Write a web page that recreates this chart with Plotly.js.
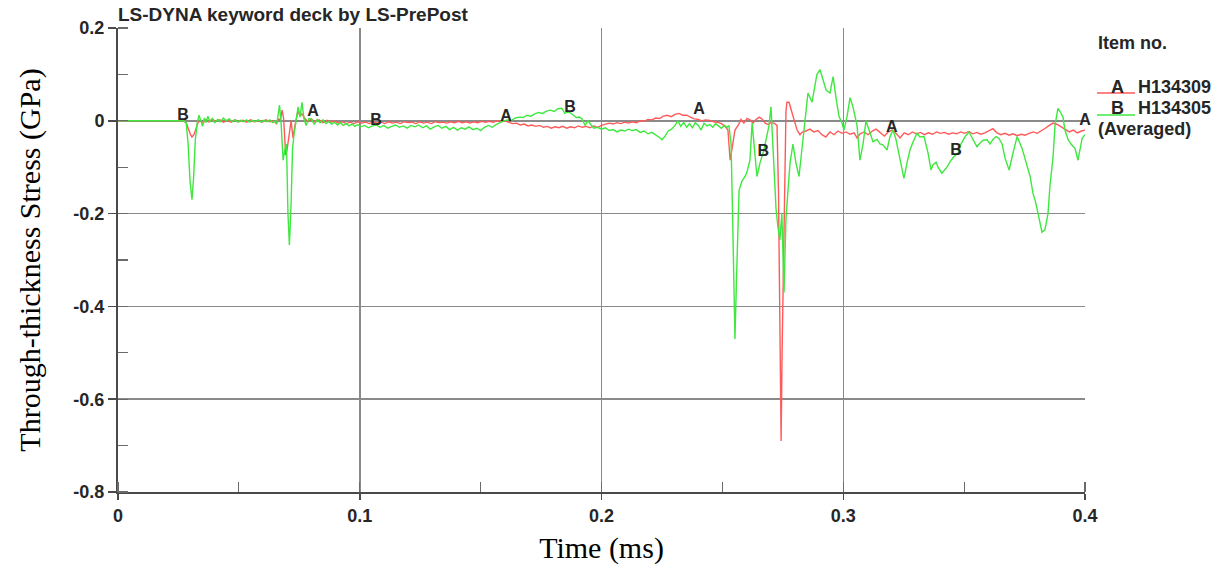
<!DOCTYPE html>
<html>
<head>
<meta charset="utf-8">
<script src="https://cdn.plot.ly/plotly-3.0.1.min.js"></script>
<style>html,body{margin:0;padding:0;background:#fff;}#chart{width:1230px;height:573px;}</style>
</head>
<body>
<div id="chart"></div>
<script>
// ---- data (time in ms, stress in GPa) ----
const seriesNames = ["H134309", "H134305"];
const seriesLetters = ["A", "B"];

const timeA = [0,0.010,0.020,0.027,0.0282,0.0292,0.0300,0.0306,0.0314,0.0322,0.0330,0.0340,0.0352,0.0364,0.0376,0.0390,0.0404,0.0420,0.0436,0.0452,0.0468,0.0484,0.0500,0.0516,0.0532,0.0548,0.0564,0.0580,0.0596,0.0612,0.0628,0.0644,0.0655,0.0662,0.0672,0.0679,0.0685,0.0694,0.0700,0.0716,0.0724,0.0732,0.0745,0.0752,0.0761,0.0773,0.0786,0.0800,0.0816,0.0832,0.0848,0.0864,0.0880,0.0896,0.0912,0.0928,0.0944,0.0960,0.0976,0.0992,0.1008,0.1024,0.1040,0.1056,0.1072,0.1088,0.1104,0.1120,0.1136,0.1152,0.1168,0.1184,0.1200,0.1216,0.1232,0.1248,0.1264,0.1280,0.1296,0.1312,0.1328,0.1344,0.1360,0.1376,0.1392,0.1408,0.1424,0.1440,0.1456,0.1472,0.1488,0.1504,0.1520,0.1536,0.1552,0.1568,0.1584,0.1600,0.1616,0.1632,0.1648,0.1664,0.1680,0.1696,0.1712,0.1728,0.1744,0.1760,0.1776,0.1792,0.1808,0.1824,0.1840,0.1856,0.1872,0.1888,0.1904,0.1920,0.1936,0.1952,0.1968,0.1984,0.2000,0.2016,0.2032,0.2048,0.2064,0.2080,0.2096,0.2112,0.2128,0.2144,0.2160,0.2176,0.2192,0.2208,0.2224,0.2240,0.2256,0.2272,0.2288,0.2304,0.2320,0.2336,0.2352,0.2368,0.2384,0.2400,0.2416,0.2432,0.2448,0.2464,0.2480,0.2496,0.2511,0.2523,0.2532,0.2540,0.2552,0.2565,0.2577,0.2589,0.2602,0.2614,0.2627,0.2639,0.2652,0.2664,0.2677,0.2689,0.2701,0.2714,0.2726,0.2732,0.2738,0.2743,0.2747,0.2751,0.2755,0.2759,0.2763,0.2767,0.2776,0.2784,0.2792,0.2800,0.2809,0.2821,0.2829,0.2845,0.2862,0.2878,0.2895,0.2912,0.2928,0.2945,0.2962,0.2978,0.2995,0.3012,0.3028,0.3045,0.3057,0.3070,0.3086,0.3103,0.3120,0.3136,0.3153,0.3170,0.3186,0.3203,0.3220,0.3235,0.3252,0.3269,0.3286,0.3302,0.3319,0.3336,0.3352,0.3369,0.3386,0.3402,0.3419,0.3436,0.3452,0.3469,0.3486,0.3502,0.3519,0.3536,0.3552,0.3569,0.3586,0.3602,0.3619,0.3636,0.3652,0.3669,0.3686,0.3702,0.3719,0.3736,0.3752,0.3769,0.3786,0.3802,0.3819,0.3836,0.3852,0.3868,0.3885,0.3902,0.3918,0.3935,0.3952,0.3968,0.3985,0.4000];
const stressA = [0,0,0,0,-0.004,-0.020,-0.030,-0.035,-0.030,-0.018,-0.005,0.002,-0.004,0.003,-0.002,0.004,-0.002,0.002,-0.003,0.001,-0.003,0.002,-0.002,0.001,-0.003,0.002,-0.002,0.001,-0.003,0.002,-0.002,0.000,-0.006,0.004,0.003,0.023,0.005,-0.074,-0.060,0.000,-0.037,-0.010,0.023,0.010,0.015,0.005,-0.002,0.004,-0.003,0.002,-0.004,0.001,-0.003,0.000,-0.005,-0.002,-0.006,-0.003,-0.006,-0.002,-0.005,-0.003,-0.006,-0.002,-0.005,-0.003,-0.006,-0.002,-0.005,-0.003,-0.006,-0.002,-0.004,-0.003,-0.006,-0.002,-0.005,-0.003,-0.006,-0.002,-0.004,-0.003,-0.005,-0.002,-0.004,-0.001,-0.004,-0.002,-0.005,-0.002,-0.004,-0.001,-0.003,-0.001,-0.003,0.000,-0.002,0.000,-0.003,-0.006,-0.005,-0.009,-0.007,-0.011,-0.009,-0.012,-0.010,-0.014,-0.012,-0.016,-0.013,-0.015,-0.012,-0.016,-0.013,-0.015,-0.011,-0.014,-0.012,-0.015,-0.011,-0.014,-0.010,-0.008,-0.005,-0.007,-0.004,-0.006,-0.003,-0.005,-0.002,-0.004,0.000,-0.001,0.003,0.002,0.006,0.005,0.010,0.012,0.009,0.014,0.016,0.012,0.012,0.008,0.004,0.003,0.000,0.002,0.001,-0.002,-0.003,-0.006,-0.012,-0.020,-0.085,-0.060,-0.020,-0.010,0.003,-0.005,0.005,0.002,-0.005,0.003,0.008,0.004,-0.005,-0.008,-0.004,-0.005,-0.010,-0.150,-0.450,-0.690,-0.500,-0.370,-0.300,-0.100,0.020,0.040,0.040,0.025,0.010,-0.005,-0.020,-0.030,-0.025,-0.022,-0.018,-0.024,-0.021,-0.030,-0.035,-0.024,-0.030,-0.022,-0.027,-0.024,-0.029,-0.026,-0.037,-0.028,-0.024,-0.030,-0.022,-0.018,-0.026,-0.033,-0.024,-0.020,-0.028,-0.037,-0.026,-0.030,-0.024,-0.028,-0.025,-0.030,-0.026,-0.029,-0.024,-0.027,-0.025,-0.029,-0.026,-0.028,-0.024,-0.027,-0.023,-0.028,-0.025,-0.029,-0.026,-0.022,-0.017,-0.026,-0.030,-0.027,-0.031,-0.028,-0.032,-0.029,-0.031,-0.027,-0.024,-0.027,-0.022,-0.016,-0.010,-0.005,-0.008,-0.013,-0.018,-0.024,-0.020,-0.026,-0.022,-0.020];

const timeB = [0,0.010,0.020,0.0270,0.0282,0.0290,0.0298,0.0306,0.0313,0.0320,0.0328,0.0335,0.0342,0.0350,0.0357,0.0364,0.0372,0.0380,0.0390,0.0400,0.0412,0.0424,0.0436,0.0448,0.0460,0.0472,0.0484,0.0496,0.0508,0.0520,0.0532,0.0544,0.0556,0.0568,0.0580,0.0592,0.0604,0.0616,0.0628,0.0640,0.0650,0.0657,0.0662,0.0668,0.0674,0.0683,0.0691,0.0697,0.0703,0.0709,0.0716,0.0722,0.0728,0.0736,0.0745,0.0753,0.0761,0.0769,0.0778,0.0790,0.0800,0.0812,0.0824,0.0836,0.0848,0.0860,0.0872,0.0884,0.0896,0.0908,0.0920,0.0932,0.0944,0.0956,0.0968,0.0980,0.0992,0.1004,0.1020,0.1036,0.1052,0.1068,0.1084,0.1100,0.1116,0.1132,0.1148,0.1164,0.1180,0.1196,0.1212,0.1228,0.1244,0.1260,0.1276,0.1292,0.1308,0.1324,0.1340,0.1356,0.1372,0.1388,0.1404,0.1420,0.1436,0.1452,0.1468,0.1484,0.1500,0.1516,0.1532,0.1548,0.1564,0.1580,0.1596,0.1612,0.1628,0.1644,0.1660,0.1676,0.1692,0.1708,0.1724,0.1740,0.1756,0.1772,0.1788,0.1804,0.1820,0.1836,0.1848,0.1860,0.1872,0.1884,0.1896,0.1908,0.1920,0.1932,0.1944,0.1956,0.1968,0.1984,0.2000,0.2016,0.2032,0.2048,0.2064,0.2080,0.2096,0.2112,0.2128,0.2144,0.2160,0.2176,0.2192,0.2208,0.2224,0.2240,0.2250,0.2262,0.2276,0.2290,0.2304,0.2316,0.2328,0.2340,0.2352,0.2364,0.2376,0.2388,0.2400,0.2412,0.2424,0.2436,0.2448,0.2460,0.2472,0.2484,0.2496,0.2508,0.2519,0.2527,0.2536,0.2544,0.2552,0.2558,0.2569,0.2581,0.2594,0.2602,0.2614,0.2623,0.2633,0.2643,0.2656,0.2668,0.2681,0.2693,0.2701,0.2709,0.2722,0.2730,0.2738,0.2746,0.2755,0.2763,0.2771,0.2780,0.2792,0.2804,0.2817,0.2829,0.2842,0.2854,0.2871,0.2883,0.2891,0.2904,0.2916,0.2929,0.2945,0.2958,0.2970,0.2982,0.2995,0.3003,0.3016,0.3028,0.3040,0.3057,0.3069,0.3082,0.3094,0.3106,0.3123,0.3140,0.3152,0.3164,0.3181,0.3193,0.3206,0.3218,0.3235,0.3251,0.3264,0.3276,0.3289,0.3305,0.3317,0.3334,0.3351,0.3363,0.3371,0.3384,0.3392,0.3408,0.3429,0.3446,0.3462,0.3475,0.3487,0.3504,0.3520,0.3537,0.3553,0.3566,0.3578,0.3595,0.3607,0.3619,0.3632,0.3644,0.3657,0.3669,0.3686,0.3702,0.3719,0.3740,0.3756,0.3773,0.3785,0.3793,0.3806,0.3814,0.3822,0.3834,0.3847,0.3855,0.3868,0.3876,0.3888,0.3897,0.3909,0.3917,0.3930,0.3942,0.3959,0.3971,0.3979,0.3988,0.4000];
const stressB = [0,0,0,0,-0.004,-0.050,-0.130,-0.170,-0.120,-0.040,-0.004,0.012,0.001,-0.012,0.006,-0.004,0.010,-0.003,0.005,-0.004,0.003,-0.002,0.006,0.000,0.004,-0.002,0.002,-0.003,0.001,-0.002,0.002,-0.003,0.001,-0.002,0.002,-0.003,0.001,-0.002,0.002,-0.004,0.000,-0.006,0.012,0.034,0.000,-0.085,-0.060,-0.050,-0.200,-0.268,-0.180,-0.060,-0.030,0.000,0.030,0.008,0.040,0.005,-0.010,0.005,0.004,-0.008,0.003,-0.004,0.002,-0.006,-0.002,-0.007,-0.003,-0.009,-0.004,-0.010,-0.006,-0.011,-0.007,-0.012,-0.008,-0.013,-0.010,-0.015,-0.011,-0.009,-0.014,-0.010,-0.016,-0.012,-0.009,-0.014,-0.011,-0.016,-0.010,-0.013,-0.009,-0.015,-0.011,-0.018,-0.013,-0.010,-0.016,-0.012,-0.019,-0.014,-0.020,-0.015,-0.018,-0.013,-0.019,-0.016,-0.021,-0.014,-0.010,-0.014,-0.008,-0.004,0.000,0.002,0.001,0.006,0.008,0.007,0.012,0.010,0.015,0.018,0.016,0.021,0.023,0.020,0.026,0.027,0.016,0.019,0.017,0.012,0.007,0.008,0.004,-0.010,0.000,-0.008,-0.016,-0.014,-0.018,-0.015,-0.021,-0.019,-0.024,-0.020,-0.022,-0.018,-0.021,-0.019,-0.025,-0.022,-0.028,-0.025,-0.030,-0.036,-0.041,-0.034,-0.022,-0.018,-0.010,0.000,-0.012,-0.003,-0.014,-0.006,-0.015,-0.004,-0.010,-0.020,-0.005,-0.011,-0.008,-0.014,-0.006,-0.012,-0.016,-0.010,-0.014,-0.010,-0.050,-0.250,-0.470,-0.350,-0.150,-0.130,-0.120,-0.110,-0.085,-0.005,-0.060,-0.120,-0.090,-0.070,-0.040,-0.010,0.030,-0.050,-0.190,-0.230,-0.257,-0.200,-0.370,-0.210,-0.160,-0.090,-0.050,-0.090,-0.120,-0.060,-0.010,0.060,0.040,0.080,0.100,0.110,0.090,0.066,0.060,0.095,0.050,0.010,-0.005,-0.020,0.010,0.050,0.030,-0.010,-0.085,-0.050,0.000,-0.020,-0.045,-0.040,-0.050,-0.052,-0.063,-0.035,-0.020,-0.040,-0.080,-0.124,-0.090,-0.063,-0.045,-0.027,-0.035,-0.034,-0.070,-0.106,-0.095,-0.089,-0.100,-0.113,-0.100,-0.085,-0.075,-0.070,-0.050,-0.034,-0.024,-0.040,-0.056,-0.048,-0.042,-0.041,-0.050,-0.040,-0.034,-0.038,-0.050,-0.080,-0.106,-0.070,-0.034,-0.060,-0.091,-0.120,-0.157,-0.170,-0.200,-0.220,-0.240,-0.235,-0.200,-0.140,-0.077,-0.010,0.027,0.020,0.008,-0.020,-0.040,-0.050,-0.060,-0.085,-0.060,-0.038,-0.030,-0.046];

// curve letter labels
const labelTimeA = [0.0807, 0.1605, 0.2403, 0.3201, 0.4000];
const labelStressA = [0.019, 0.008, 0.023, -0.016, 0.000];
const labelTimeB = [0.0269, 0.1067, 0.1870, 0.2669, 0.3466];
const labelStressB = [0.010, 0.000, 0.028, -0.067, -0.065];

// axis ticks
const xTickVals = [0, 0.1, 0.2, 0.3, 0.4];
const xTickText = ["0", "0.1", "0.2", "0.3", "0.4"];
const yTickVals = [0.2, 0, -0.2, -0.4, -0.6, -0.8];
const yTickText = ["0.2", "0", "-0.2", "-0.4", "-0.6", "-0.8"];

// ---- styles ----
const RED = "#ff5a5a";
const GREEN = "#3ee83e";
const SANS = "Liberation Sans, Arial, sans-serif";
const SERIF = "Liberation Serif, Times New Roman, serif";
const TXT = "#262626";
const bold = s => "<b>" + s + "</b>";

const traces = [
  {x: timeA, y: stressA, type: "scatter", mode: "lines", line: {color: RED, width: 1.4}, showlegend: false, hoverinfo: "skip"},
  {x: timeB, y: stressB, type: "scatter", mode: "lines", line: {color: GREEN, width: 1.4}, showlegend: false, hoverinfo: "skip"},
  {x: labelTimeA, y: labelStressA, type: "scatter", mode: "text", text: labelTimeA.map(() => bold(seriesLetters[0])),
   textfont: {family: SANS, size: 16, color: TXT}, cliponaxis: false, showlegend: false, hoverinfo: "skip"},
  {x: labelTimeB, y: labelStressB, type: "scatter", mode: "text", text: labelTimeB.map(() => bold(seriesLetters[1])),
   textfont: {family: SANS, size: 16, color: TXT}, cliponaxis: false, showlegend: false, hoverinfo: "skip"}
];

const layout = {
  width: 1230, height: 573,
  margin: {l: 118, r: 145, t: 28, b: 81},
  paper_bgcolor: "#ffffff", plot_bgcolor: "#ffffff",
  showlegend: false,
  title: {text: bold("LS-DYNA keyword deck by LS-PrePost"), x: 0, xref: "paper", xanchor: "left",
          y: 1 - 14/573, yref: "container", yanchor: "middle",
          font: {family: SANS, size: 19, color: TXT}},
  xaxis: {
    range: [0, 0.4], tickvals: xTickVals, ticktext: xTickText.map(bold),
    showgrid: true, gridcolor: "#8a8a8a", gridwidth: 1.5,
    zeroline: false, showline: true, linecolor: "#4a4a4a", linewidth: 2,
    ticks: "outside", ticklen: 6, tickcolor: "#4a4a4a", tickwidth: 1.5,
    tickfont: {family: SANS, size: 18, color: TXT},
    minor: {dtick: 0.05, tick0: 0, ticks: "inside", ticklen: 10, tickcolor: "#6a6a6a", tickwidth: 1.2, showgrid: false},
    title: {text: "Time (ms)", font: {family: SERIF, size: 30, color: "#000"}, standoff: 12},
    mirror: false, fixedrange: true
  },
  yaxis: {
    range: [-0.8, 0.2], tickvals: yTickVals, ticktext: yTickText.map(bold),
    showgrid: true, gridcolor: "#8a8a8a", gridwidth: 1.5,
    zeroline: false, showline: true, linecolor: "#4a4a4a", linewidth: 2,
    ticks: "outside", ticklen: 8, tickcolor: "#4a4a4a", tickwidth: 1.5,
    tickfont: {family: SANS, size: 18, color: TXT},
    minor: {dtick: 0.1, tick0: 0, ticks: "inside", ticklen: 10, tickcolor: "#6a6a6a", tickwidth: 1.2, showgrid: false},
    title: {text: "Through-thickness Stress (GPa)", font: {family: SERIF, size: 30, color: "#000"}, standoff: 24},
    fixedrange: true
  },
  annotations: [
    {xref: "paper", yref: "paper", x: (1096-118)/967, y: (492-43)/464, xanchor: "left", yanchor: "middle", showarrow: false,
     text: bold("Item no."), font: {family: SANS, size: 18, color: TXT}},
    {xref: "paper", yref: "paper", x: (1117.5-118)/967, y: (492-87)/464, xanchor: "center", yanchor: "middle", showarrow: false,
     text: bold(seriesLetters[0]), font: {family: SANS, size: 18, color: TXT}},
    {xref: "paper", yref: "paper", x: (1136-118)/967, y: (492-87)/464, xanchor: "left", yanchor: "middle", showarrow: false,
     text: bold(seriesNames[0]), font: {family: SANS, size: 18, color: TXT}},
    {xref: "paper", yref: "paper", x: (1117.5-118)/967, y: (492-108)/464, xanchor: "center", yanchor: "middle", showarrow: false,
     text: bold(seriesLetters[1]), font: {family: SANS, size: 18, color: TXT}},
    {xref: "paper", yref: "paper", x: (1136-118)/967, y: (492-108)/464, xanchor: "left", yanchor: "middle", showarrow: false,
     text: bold(seriesNames[1]), font: {family: SANS, size: 18, color: TXT}},
    {xref: "paper", yref: "paper", x: (1096-118)/967, y: (492-129)/464, xanchor: "left", yanchor: "middle", showarrow: false,
     text: bold("(Averaged)"), font: {family: SANS, size: 18, color: TXT}}
  ],
  shapes: [
    {type: "line", xref: "paper", yref: "paper", x0: (1097-118)/967, x1: (1135-118)/967, y0: (492-93)/464, y1: (492-93)/464,
     line: {color: RED, width: 1.5}},
    {type: "line", xref: "paper", yref: "paper", x0: (1097-118)/967, x1: (1135-118)/967, y0: (492-115)/464, y1: (492-115)/464,
     line: {color: GREEN, width: 1.5}}
  ]
};

Plotly.newPlot("chart", traces, layout, {staticPlot: true, displayModeBar: false});
</script>
</body>
</html>
